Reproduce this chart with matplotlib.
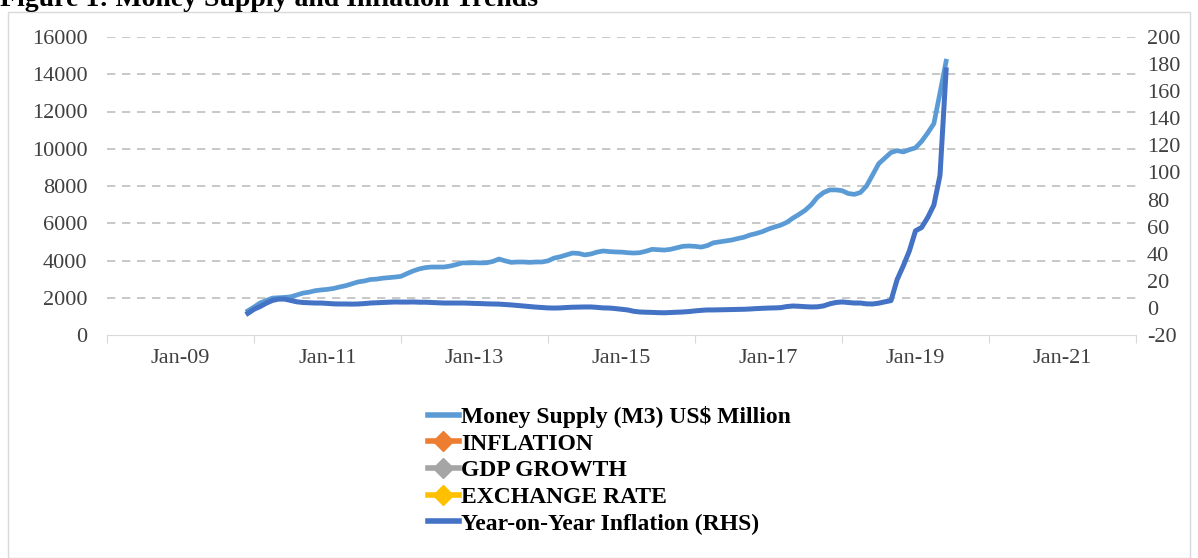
import numpy as np
import matplotlib.pyplot as plt
from matplotlib.lines import Line2D
from matplotlib.patches import Rectangle

plt.rcParams['font.family'] = ['Liberation Serif', 'DejaVu Serif']

# monthly series, Dec 2009 .. Jun 2019
start_month = 23  # months after Jan 2008

money_supply = [
    1300,
    1500, 1720, 1850, 1980, 2000, 2020, 2050, 2150, 2250, 2300, 2380, 2420,
    2450, 2500, 2580, 2650, 2750, 2850, 2900, 2980, 3000, 3050, 3080, 3110,
    3150, 3300, 3440, 3550, 3620, 3650, 3650, 3650, 3700, 3780, 3870, 3870,
    3880, 3870, 3880, 3950, 4080, 3980, 3900, 3920, 3920, 3900, 3920, 3920,
    3980, 4130, 4200, 4300, 4400, 4380, 4300, 4350, 4450, 4510, 4480, 4460,
    4450, 4420, 4400, 4420, 4500, 4600, 4580, 4560, 4600, 4680, 4760, 4780,
    4760, 4720, 4800, 4950, 5000, 5050, 5100, 5180, 5250, 5370, 5450, 5550,
    5690, 5800, 5900, 6050, 6280, 6480, 6700, 7000, 7400, 7650, 7790, 7790,
    7750, 7600, 7550, 7650, 8000, 8600, 9200, 9500, 9800, 9900, 9830, 9950,
    10050, 10400, 10850, 11350, 13000, 14700,
]

yoy_inflation = [
    -4.0,
    -1.0, 1.0, 3.5, 5.5, 6.5, 6.5, 5.5, 4.5, 4.0, 3.8, 3.6, 3.6,
    3.3, 3.0, 2.9, 2.9, 2.8, 2.9, 3.2, 3.6, 3.8, 4.0, 4.2, 4.4,
    4.3, 4.3, 4.4, 4.2, 4.2, 4.0, 3.8, 3.6, 3.6, 3.6, 3.6, 3.5,
    3.3, 3.2, 3.0, 2.9, 2.8, 2.5, 2.2, 1.8, 1.4, 1.0, 0.6, 0.3,
    0.0, -0.1, 0.0, 0.3, 0.5, 0.6, 0.7, 0.7, 0.4, 0.0, -0.1, -0.5,
    -1.0, -1.5, -2.5, -3.0, -3.2, -3.3, -3.5, -3.6, -3.4, -3.2, -3.0, -2.7,
    -2.2, -1.8, -1.5, -1.5, -1.4, -1.3, -1.2, -1.1, -1.0, -0.8, -0.5, -0.3,
    -0.1, 0.0, 0.2, 1.0, 1.4, 1.2, 0.9, 0.7, 0.8, 1.5, 3.0, 4.0,
    4.4, 4.0, 3.6, 3.6, 3.0, 2.9, 3.5, 4.5, 5.4, 20.9, 31.0, 42.1,
    56.9, 59.4, 66.8, 75.9, 97.9, 175.7,
]

tick_years = list(range(2008, 2023, 2))
label_years = list(range(2009, 2022, 2))
left_ticks = list(range(0, 16001, 2000))
right_ticks = list(range(-20, 201, 20))

months = start_month + np.arange(len(money_supply))

light_blue = '#5B9BD5'
dark_blue = '#4472C4'
text_grey = '#404040'
grid_grey = '#BFBFBF'

fig = plt.figure(figsize=(11.98, 5.58), dpi=100)
fig.patches.append(Rectangle((8 / 1198, 0), 1182 / 1198, 1 - 12 / 558,
                             transform=fig.transFigure, fill=False,
                             edgecolor='#D9D9D9', linewidth=1))
# title is cut at the top edge in the source picture
fig.text(0.0, 1 - 6 / 558, 'Figure 1: Money Supply and Inflation Trends',
         fontsize=20, fontweight='bold', va='baseline', ha='left')

ax = fig.add_axes([107 / 1198, 1 - 335 / 558, 1029 / 1198, 298 / 558])
ax2 = ax.twinx()

ax.plot(months, money_supply, color=light_blue, linewidth=3.4, zorder=3)
ax2.plot(months, yoy_inflation, color=dark_blue, linewidth=3.6, zorder=3)

ax.set_xlim(0, 168)
ax.set_ylim(0, 16000)
ax2.set_ylim(-20, 200)

ax.set_yticks(left_ticks)
ax.set_yticklabels([str(v) for v in left_ticks])
ax2.set_yticks(right_ticks)
ax2.set_yticklabels([str(v) for v in right_ticks])

ax.set_xticks([(y - 2008) * 12 for y in tick_years])
ax.set_xticklabels([])
ax.set_xticks([(y - 2008) * 12 for y in label_years], minor=True)
ax.set_xticklabels(['Jan-%02d' % (y % 100) for y in label_years], minor=True)
ax.tick_params(axis='x', which='major', length=6, color='#D9D9D9', direction='out')
ax.tick_params(axis='x', which='minor', length=0, pad=10, labelsize=16, labelcolor=text_grey)
ax.tick_params(axis='y', length=0, pad=14, labelsize=16, labelcolor=text_grey)
ax2.tick_params(axis='y', length=0, pad=8, labelsize=16, labelcolor=text_grey)

for y in left_ticks[1:]:
    ax.axhline(y, color=grid_grey, linewidth=1.2, linestyle=(0, (5, 4)), zorder=1)

for a in (ax, ax2):
    for s in ('top', 'left', 'right'):
        a.spines[s].set_visible(False)
ax.spines['bottom'].set_color('#D9D9D9')
ax2.spines['bottom'].set_visible(False)
ax.patch.set_visible(False)

handles = [
    Line2D([], [], color=light_blue, linewidth=4),
    Line2D([], [], color='#ED7D31', linewidth=4, marker='D', markersize=10),
    Line2D([], [], color='#A5A5A5', linewidth=4, marker='D', markersize=10),
    Line2D([], [], color='#FFC000', linewidth=4, marker='D', markersize=10),
    Line2D([], [], color=dark_blue, linewidth=4),
]
labels = ['Money Supply (M3) US$ Million', 'INFLATION', 'GDP GROWTH',
          'EXCHANGE RATE', 'Year-on-Year Inflation (RHS)']
fig.legend(handles, labels, loc='upper left', bbox_to_anchor=(416 / 1198, 1 - 394 / 558),
           frameon=False, prop={'size': 17, 'weight': 'bold'}, handlelength=1.3,
           handletextpad=0.1, labelspacing=0.22, borderpad=0)

fig.savefig('out.png', dpi=100)
